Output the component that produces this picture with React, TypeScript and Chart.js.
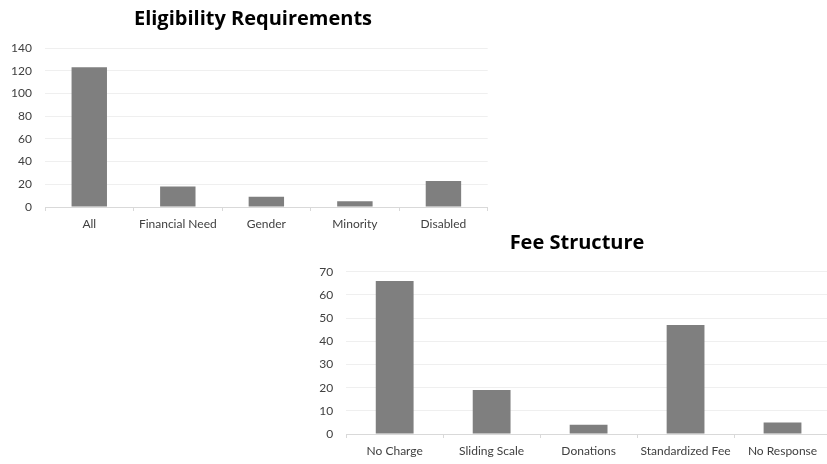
import React, { useEffect, useRef } from "react";
import { Chart, registerables } from "chart.js";

Chart.register(...registerables);

const eligibilityTitle = "Eligibility Requirements";
const eligibilityCategories = ["All", "Financial Need", "Gender", "Minority", "Disabled"];
const eligibilityValues = [123, 18, 9, 5, 23];
const eligibilityMax = 140;
const eligibilityStep = 20;

const feeTitle = "Fee Structure";
const feeCategories = ["No Charge", "Sliding Scale", "Donations", "Standardized Fee", "No Response"];
const feeValues = [66, 19, 4, 47, 5];
const feeMax = 70;
const feeStep = 10;

const FONT = "Lato, 'Open Sans', sans-serif";
const TITLE_FONT = "'Open Sans', Lato, sans-serif";

const titleShift = {
  id: "titleShift",
  afterLayout(chart: any, _args: any, opts: any) {
    const t = chart.titleBlock;
    if (!t || opts == null || opts.center == null) return;
    const half = 220;
    t.left = opts.center - half;
    t.right = opts.center + half;
    t.width = 2 * half;
  },
};

type Props = {
  title: string;
  labels: string[];
  values: number[];
  yMax: number;
  yStep: number;
  left: number;
  top: number;
  width: number;
  height: number;
  padRight: number;
  yAxisWidth: number;
  xAxisHeight: number;
  titleTop: number;
  titleBottom: number;
  titleCenter: number;
  barPct: number;
};

function BarChart(p: Props) {
  const ref = useRef<HTMLCanvasElement | null>(null);
  useEffect(() => {
    if (!ref.current) return;
    const chart = new Chart(ref.current, {
      type: "bar",
      data: {
        labels: p.labels,
        datasets: [
          {
            data: p.values,
            backgroundColor: "#7f7f7f",
            borderWidth: 0,
            barPercentage: p.barPct,
            categoryPercentage: 1,
          },
        ],
      },
      plugins: [titleShift],
      options: {
        responsive: false,
        animation: false,
        maintainAspectRatio: false,
        layout: { padding: { left: 0, right: p.padRight, top: 0, bottom: 0 } },
        plugins: {
          legend: { display: false },
          tooltip: { enabled: false },
          titleShift: { center: p.titleCenter },
          title: {
            display: true,
            text: p.title,
            color: "#000000",
            font: { family: TITLE_FONT, size: 20, weight: "bold", lineHeight: 1.2 },
            padding: { top: p.titleTop, bottom: p.titleBottom },
          },
        },
        scales: {
          x: {
            offset: true,
            grid: {
              display: true,
              drawOnChartArea: false,
              drawTicks: true,
              tickLength: 4,
              color: "#d9d9d9",
              offset: true,
            },
            border: { display: true, color: "#d9d9d9", width: 1 },
            ticks: {
              color: "#404040",
              font: { family: FONT, size: 12 },
              padding: 6,
              maxRotation: 0,
              autoSkip: false,
            },
            afterFit: (s: any) => {
              s.height = p.xAxisHeight;
            },
          },
          y: {
            min: 0,
            max: p.yMax,
            grid: { color: "#efefef", drawTicks: false },
            border: { display: false },
            ticks: {
              stepSize: p.yStep,
              color: "#404040",
              font: { family: FONT, size: 12 },
              padding: 13,
            },
            afterFit: (s: any) => {
              s.width = p.yAxisWidth;
            },
          },
        },
      },
    } as any);
    return () => chart.destroy();
  }, []);
  return (
    <canvas
      ref={ref}
      width={p.width}
      height={p.height}
      style={{ position: "absolute", left: p.left, top: p.top, width: p.width, height: p.height }}
    />
  );
}

export default function App() {
  return (
    <div
      style={{
        position: "absolute",
        left: 0,
        top: 0,
        width: 827,
        height: 464,
        overflow: "hidden",
        background: "#ffffff",
      }}
    >
      <BarChart
        title={eligibilityTitle}
        labels={eligibilityCategories}
        values={eligibilityValues}
        yMax={eligibilityMax}
        yStep={eligibilityStep}
        left={0}
        top={0}
        width={500}
        height={235}
        padRight={12.3}
        yAxisWidth={45}
        xAxisHeight={28}
        titleTop={7}
        titleBottom={17}
        titleCenter={253}
        barPct={0.4}
      />
      <BarChart
        title={feeTitle}
        labels={feeCategories}
        values={feeValues}
        yMax={feeMax}
        yStep={feeStep}
        left={300}
        top={226}
        width={540}
        height={238}
        padRight={9}
        yAxisWidth={46.2}
        xAxisHeight={30}
        titleTop={5}
        titleBottom={16.7}
        titleCenter={277}
        barPct={0.39}
      />
    </div>
  );
}
